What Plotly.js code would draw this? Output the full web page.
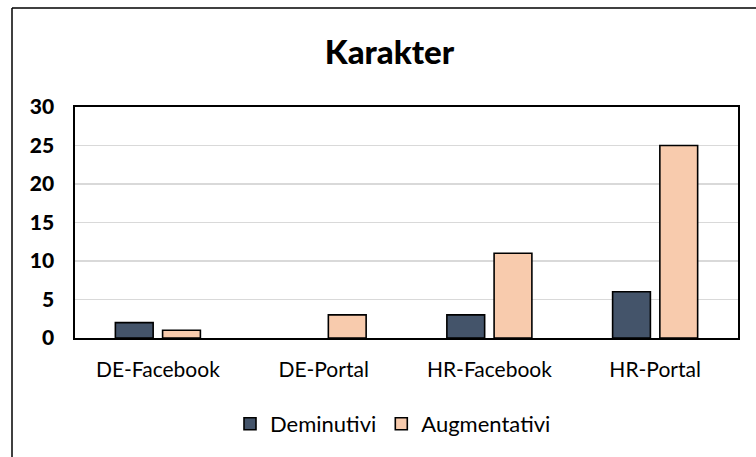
<!DOCTYPE html>
<html>
<head>
<meta charset="utf-8">
<script src="https://cdn.plot.ly/plotly-3.0.1.min.js"></script>
<style>
html,body{margin:0;padding:0;background:#fff;}
#chart{width:756px;height:457px;}
</style>
</head>
<body>
<div id="chart"></div>
<script>
const categories = ["DE-Facebook", "DE-Portal", "HR-Facebook", "HR-Portal"];
const deminutivi = [2, 0, 3, 6];
const augmentativi = [1, 3, 11, 25];
const seriesNames = ["Deminutivi", "Augmentativi"];
const yTicks = [0, 5, 10, 15, 20, 25, 30];

const FONT = "Lato, 'Open Sans', sans-serif";
const W = 756, H = 457;
const mL = 75, mR = 18, mT = 107, mB = 119;
const pw = W - mL - mR, ph = H - mT - mB;
const px = x => (x - mL) / pw;
const py = y => (H - mB - y) / ph;
const outline = vals => vals.map(v => (v === 0 ? 0 : 1.6));

const traces = [
  {type: "bar", name: seriesNames[0], x: categories, y: deminutivi,
   marker: {color: "#44546A", line: {color: "#000", width: outline(deminutivi)}}},
  {type: "bar", name: seriesNames[1], x: categories, y: augmentativi,
   marker: {color: "#F8CBAD", line: {color: "#000", width: outline(augmentativi)}}}
];

const layout = {
  width: W, height: H,
  margin: {l: mL, r: mR, t: mT, b: mB, pad: 0},
  paper_bgcolor: "#fff", plot_bgcolor: "#fff",
  font: {family: FONT, color: "#000"},
  barmode: "group", bargap: 0.43, bargroupgap: 0.2,
  title: {text: "Karakter", font: {family: FONT, size: 33, color: "#000", weight: 900},
          xref: "container", yref: "container", x: 389.5 / W, xanchor: "center",
          y: 1 - 52 / H, yanchor: "middle"},
  xaxis: {type: "category", showline: true, mirror: true, linecolor: "#000", linewidth: 1.6,
          ticks: "", tickfont: {family: FONT, size: 21, color: "#000"},
          ticklabelstandoff: 12, showgrid: false, zeroline: false, fixedrange: true},
  yaxis: {range: [0, 30], tickvals: yTicks, ticktext: yTicks.map(String),
          showline: true, mirror: true, linecolor: "#000", linewidth: 1.6,
          ticks: "", tickfont: {family: FONT, size: 21, color: "#000", weight: 900},
          ticklabelstandoff: 15, showgrid: true, gridcolor: "#d9d9d9", gridwidth: 1.5,
          zeroline: false, fixedrange: true},
  legend: {orientation: "h", x: px(393), xanchor: "center", y: py(424), yanchor: "middle",
           font: {family: FONT, size: 22, color: "#000"}, itemwidth: 30, tracegroupgap: 0,
           bgcolor: "rgba(0,0,0,0)"},
  shapes: [
    {type: "line", xref: "paper", yref: "paper", x0: px(12), x1: px(12), y0: py(470), y1: py(8),
     line: {color: "#000", width: 1.5}},
    {type: "line", xref: "paper", yref: "paper", x0: px(12), x1: px(770), y0: py(8), y1: py(8),
     line: {color: "#000", width: 1.5}}
  ],
  showlegend: true
};

Plotly.newPlot("chart", traces, layout, {displayModeBar: false, staticPlot: true});
</script>
</body>
</html>
